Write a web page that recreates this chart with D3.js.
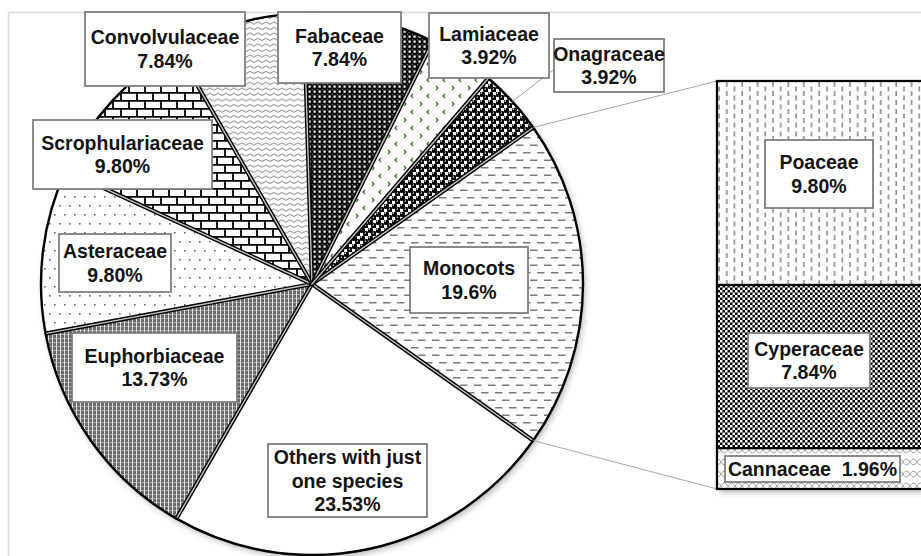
<!DOCTYPE html>
<html>
<head>
<meta charset="utf-8">
<script src="https://cdn.jsdelivr.net/npm/d3@7/dist/d3.min.js"></script>
<style>
  html, body { margin: 0; padding: 0; background: #fff; }
  svg { display: block; }
  text { font-family: "Liberation Sans", Arial, sans-serif; font-weight: bold; fill: #141414; }
</style>
</head>
<body>
<script>
// ---------------- DATA ----------------
const pieCategories = ["Monocots", "Others with just one species", "Euphorbiaceae", "Asteraceae",
  "Scrophulariaceae", "Convolvulaceae", "Fabaceae", "Lamiaceae", "Onagraceae"];
const pieValues = [19.6, 23.53, 13.73, 9.80, 9.80, 7.84, 7.84, 3.92, 3.92];
const pieValueLabels = ["19.6%", "23.53%", "13.73%", "9.80%", "9.80%", "7.84%", "7.84%", "3.92%", "3.92%"];
const pieNameLines = [["Monocots"], ["Others with just", "one species"], ["Euphorbiaceae"], ["Asteraceae"],
  ["Scrophulariaceae"], ["Convolvulaceae"], ["Fabaceae"], ["Lamiaceae"], ["Onagraceae"]];

const barCategories = ["Poaceae", "Cyperaceae", "Cannaceae"];
const barValues = [9.80, 7.84, 1.96];
const barValueLabels = ["9.80%", "7.84%", "1.96%"];

// ---------------- LAYOUT (style only) ----------------
const W = 921, H = 556;
const cx = 312, cy = 284, R = 271;
const barX0 = 717, barX1 = 923, barTop = 81, barBottom = 489;
// label boxes [x0, y0, x1, y1]
const pieLabelBoxes = [
  [410, 247, 528, 313], [268, 444, 427, 517], [72, 333, 237, 402], [59, 234, 171, 292],
  [33, 120, 212, 189], [85, 12, 245, 86], [278, 12, 401, 83], [429, 13, 549, 78], [554, 39, 664, 92]
];
const barLabelBoxes = [[765, 140, 873, 208], [748, 333, 870, 388], [725, 456, 900, 482]];
const pieFills = ["url(#pMono)", "#ffffff", "url(#pEuph)", "url(#pAster)", "url(#pBrick)",
  "url(#pWave)", "url(#pFab)", "url(#pLam)", "url(#pOnag)"];
const barFills = ["url(#pPoa)", "url(#pCyp)", "url(#pCann)"];
const FS = 19.5;
const LH = 23.5;

const svg = d3.select("body").append("svg").attr("width", W).attr("height", H);
const defs = svg.append("defs");

function pat(id, w, h) {
  return defs.append("pattern").attr("id", id).attr("patternUnits", "userSpaceOnUse")
    .attr("width", w).attr("height", h);
}
// Monocots: horizontal gray dashes
{ const p = pat("pMono", 14, 15);
  p.append("rect").attr("width", 14).attr("height", 15).attr("fill", "#fff");
  p.append("path").attr("d", "M1,3.7H8.5M8,11.2H14M0,11.2H1.5").attr("stroke", "#7a7a7a").attr("stroke-width", 1.4); }
// Euphorbiaceae: gray small grid
{ const p = pat("pEuph", 4, 4);
  p.append("rect").attr("width", 4).attr("height", 4).attr("fill", "#6a6a6a");
  p.append("rect").attr("width", 1).attr("height", 4).attr("fill", "#e0e0e0");
  p.append("rect").attr("x", 1).attr("y", 2).attr("width", 3).attr("height", 1).attr("fill", "#a8a8a8"); }
// Asteraceae: sparse dots
{ const p = pat("pAster", 20, 18);
  p.append("rect").attr("width", 20).attr("height", 18).attr("fill", "#fff");
  [[2, 2], [12, 2], [7, 11], [17, 11]].forEach(([x, y]) =>
    p.append("rect").attr("x", x).attr("y", y).attr("width", 1.6).attr("height", 1.6).attr("fill", "#6a6a6a")); }
// Scrophulariaceae: bricks
{ const p = pat("pBrick", 16, 16);
  p.append("rect").attr("width", 16).attr("height", 16).attr("fill", "#fff");
  p.append("path").attr("d", "M0,0.9H16M0,8.9H16M1,0V9M9,8V16").attr("stroke", "#000").attr("stroke-width", 1.8); }
// Convolvulaceae: small waves
{ const p = pat("pWave", 8, 5.5);
  p.append("rect").attr("width", 8).attr("height", 5.5).attr("fill", "#fff");
  p.append("path").attr("d", "M0,3 Q2,0.8 4,3 T8,3").attr("fill", "none").attr("stroke", "#6e6e6e").attr("stroke-width", 0.9); }
// Fabaceae: black with white dots
{ const p = pat("pFab", 5, 5);
  p.append("rect").attr("width", 5).attr("height", 5).attr("fill", "#111");
  p.append("rect").attr("x", 1.5).attr("y", 1.5).attr("width", 2.2).attr("height", 2.2).attr("fill", "#f4f4f4");
  p.append("rect").attr("x", 0).attr("y", 0).attr("width", 0.8).attr("height", 0.8).attr("fill", "#999"); }
// Lamiaceae: green small marks
{ const p = pat("pLam", 16, 16);
  p.append("rect").attr("width", 16).attr("height", 16).attr("fill", "#fff");
  p.append("path").attr("d", "M5,2 L3,4 L5,6 M12,10 L14,12 L12,14").attr("fill", "none")
    .attr("stroke", "#3d6b30").attr("stroke-width", 1.3); }
// Onagraceae: black spheres checker
{ const p = pat("pOnag", 8, 8);
  p.append("rect").attr("width", 8).attr("height", 8).attr("fill", "#fff");
  [[2, 2], [6, 6]].forEach(([x, y]) => {
    p.append("circle").attr("cx", x).attr("cy", y).attr("r", 2.9).attr("fill", "#000");
    p.append("circle").attr("cx", x - 0.8).attr("cy", y - 0.9).attr("r", 0.8).attr("fill", "#fff");
  });
  p.append("path").attr("d", "M4,0V8M0,4H8").attr("stroke", "#000").attr("stroke-width", 0.6); }
// Poaceae: vertical gray dashes
{ const p = pat("pPoa", 15.4, 18);
  p.append("rect").attr("width", 15.4).attr("height", 18).attr("fill", "#fff");
  p.append("path").attr("d", "M3,1V6M3,10V15M10.7,5.5V10.5M10.7,14.5V18M10.7,0V1.5")
    .attr("stroke", "#707070").attr("stroke-width", 1.3); }
// Cyperaceae: small checkerboard
{ const p = pat("pCyp", 5, 5);
  p.append("rect").attr("width", 5).attr("height", 5).attr("fill", "#000");
  p.append("rect").attr("x", 0).attr("y", 0).attr("width", 2.5).attr("height", 2.5).attr("fill", "#fff");
  p.append("rect").attr("x", 2.5).attr("y", 2.5).attr("width", 2.5).attr("height", 2.5).attr("fill", "#fff"); }
// Cannaceae: light trellis
{ const p = pat("pCann", 14, 12);
  p.append("rect").attr("width", 14).attr("height", 12).attr("fill", "#fff");
  p.append("path").attr("d", "M0,6 Q3.5,0 7,6 Q10.5,12 14,6 M0,6 Q3.5,12 7,6 Q10.5,0 14,6").attr("fill", "none")
    .attr("stroke", "#9a9a9a").attr("stroke-width", 0.9); }

// shadow filter
const f = defs.append("filter").attr("id", "shadow").attr("x", "-10%").attr("y", "-10%").attr("width", "130%").attr("height", "130%");
f.append("feDropShadow").attr("dx", 2).attr("dy", 3).attr("stdDeviation", 3).attr("flood-color", "#000").attr("flood-opacity", 0.3);

// chart area border
svg.append("rect").attr("x", 8.5).attr("y", 12.5).attr("width", 940).attr("height", 580)
  .attr("fill", "#fff").attr("stroke", "#d9d9d9").attr("stroke-width", 1.5);

// ---------------- PIE ----------------
const total = d3.sum(pieValues);
const a0 = Math.PI / 2 - (pieValues[0] / total) * Math.PI;
const pie = d3.pie().sort(null).value(d => d).startAngle(a0).endAngle(a0 + 2 * Math.PI);
const arcs = pie(pieValues);
const arc = d3.arc().innerRadius(0).outerRadius(R);
const pt = (a, r) => [cx + r * Math.sin(a), cy - r * Math.cos(a)];

const gPie = svg.append("g");
gPie.append("circle").attr("cx", cx).attr("cy", cy).attr("r", R).attr("fill", "#fff").attr("filter", "url(#shadow)");
const gSlices = gPie.append("g").attr("transform", `translate(${cx},${cy})`);
gSlices.selectAll("path.slice").data(arcs).join("path").attr("class", "slice")
  .attr("d", arc).attr("fill", (d, i) => pieFills[i]).attr("stroke", "#000").attr("stroke-width", 2.4)
  .attr("stroke-linejoin", "round");
// radial separators
const sepG = gPie.append("g");
arcs.forEach(d => {
  const p = pt(d.startAngle, R - 1);
  sepG.append("line").attr("x1", cx).attr("y1", cy).attr("x2", p[0]).attr("y2", p[1])
    .attr("stroke", "#000").attr("stroke-width", 4.2);
  sepG.append("line").attr("x1", cx).attr("y1", cy).attr("x2", p[0]).attr("y2", p[1])
    .attr("stroke", "#c4c4c4").attr("stroke-width", 1.4);
});

// ---------------- CONNECTORS ----------------
const mono = arcs[0];
const pTop = pt(mono.startAngle, R), pBot = pt(mono.endAngle, R);
svg.append("line").attr("x1", pTop[0]).attr("y1", pTop[1]).attr("x2", barX0).attr("y2", barTop)
  .attr("stroke", "#a6a6a6").attr("stroke-width", 1);
svg.append("line").attr("x1", pBot[0]).attr("y1", pBot[1]).attr("x2", barX0).attr("y2", barBottom)
  .attr("stroke", "#a6a6a6").attr("stroke-width", 1);

// ---------------- BAR ----------------
const yScale = d3.scaleLinear().domain([0, d3.sum(barValues)]).range([barTop, barBottom]);
let acc = 0;
const stack = barValues.map(v => { const s = acc; acc += v; return [s, acc]; });
const gBar = svg.append("g");
gBar.append("rect").attr("x", barX0).attr("y", barTop).attr("width", barX1 - barX0).attr("height", barBottom - barTop)
  .attr("fill", "#fff").attr("filter", "url(#shadow)");
gBar.selectAll("rect.seg").data(stack).join("rect").attr("class", "seg")
  .attr("x", barX0).attr("y", d => yScale(d[0])).attr("width", barX1 - barX0)
  .attr("height", d => yScale(d[1]) - yScale(d[0]))
  .attr("fill", (d, i) => barFills[i]).attr("stroke", "#000").attr("stroke-width", 2.2);

// ---------------- LABELS ----------------
// Onagraceae leader line
{
  const ona = arcs[8];
  const m = pt((ona.startAngle + ona.endAngle) / 2, R);
  const b = pieLabelBoxes[8];
  svg.append("line").attr("x1", m[0]).attr("y1", m[1]).attr("x2", b[0]).attr("y2", (b[1] + b[3]) / 2 + 4)
    .attr("stroke", "#a6a6a6").attr("stroke-width", 1);
}
function labelBox(box, lines) {
  const [x0, y0, x1, y1] = box;
  const g = svg.append("g");
  g.append("rect").attr("x", x0).attr("y", y0).attr("width", x1 - x0).attr("height", y1 - y0)
    .attr("fill", "#fff").attr("stroke", "#7f7f7f").attr("stroke-width", 1.8);
  const mx = (x0 + x1) / 2, my = (y0 + y1) / 2;
  const n = lines.length;
  lines.forEach((t, i) => {
    g.append("text").attr("x", mx).attr("y", my + (i - (n - 1) / 2) * LH)
      .attr("text-anchor", "middle").attr("dominant-baseline", "central")
      .attr("font-size", FS).style("white-space", "pre").text(t);
  });
}
pieCategories.forEach((c, i) => labelBox(pieLabelBoxes[i], [...pieNameLines[i], pieValueLabels[i]]));
barCategories.forEach((c, i) => {
  const lines = i === 2 ? [c + "  " + barValueLabels[i]] : [c, barValueLabels[i]];
  labelBox(barLabelBoxes[i], lines);
});
</script>
</body>
</html>
